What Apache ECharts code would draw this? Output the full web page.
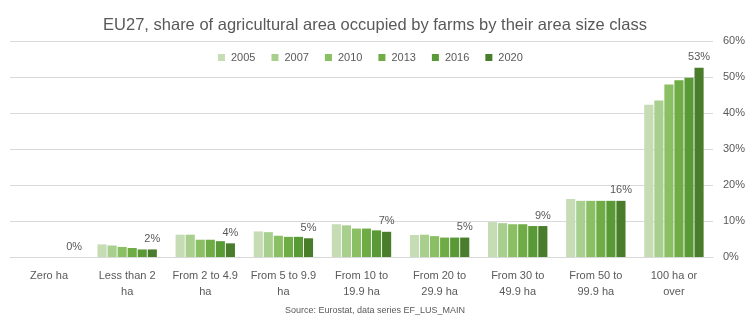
<!DOCTYPE html>
<html>
<head>
<meta charset="utf-8">
<script src="https://cdn.jsdelivr.net/npm/echarts@6/dist/echarts.min.js"></script>
<style>
  html, body { margin: 0; padding: 0; background: #fff; }
  #chart { width: 750px; height: 318px; }
</style>
</head>
<body>
<div id="chart"></div>
<script>
const categories = [
  'Zero ha', 'Less than 2\nha', 'From 2 to 4.9\nha', 'From 5 to 9.9\nha',
  'From 10 to\n19.9 ha', 'From 20 to\n29.9 ha', 'From 30 to\n49.9 ha',
  'From 50 to\n99.9 ha', '100 ha or\nover'
]
const years = ['2005', '2007', '2010', '2013', '2016', '2020']

// share of agricultural area, %
const v2005 = [0, 3.5, 6.2, 7.1, 9.1, 6.1, 9.7, 16.1, 42.3]
const v2007 = [0, 3.2, 6.2, 6.9, 8.8, 6.2, 9.4, 15.6, 43.5]
const v2010 = [0, 2.8, 4.8, 5.9, 7.9, 5.8, 9.1, 15.6, 47.9]
const v2013 = [0, 2.5, 4.8, 5.6, 7.9, 5.4, 9.1, 15.6, 49.1]
const v2016 = [0, 2.1, 4.4, 5.6, 7.4, 5.4, 8.6, 15.6, 49.8]
const v2020 = [0, 2.1, 3.8, 5.2, 7.0, 5.4, 8.6, 15.6, 52.6]

const seriesValues = [v2005, v2007, v2010, v2013, v2016, v2020]
const colors = ['#c5dcb4', '#a9cf8f', '#8bbf63', '#6fac46', '#5a9a36', '#4a7d2b']

const textColor = '#595959'
const fontFamily = 'Liberation Sans, Arial, sans-serif'

const chart = echarts.init(document.getElementById('chart'))

const series = years.map((y, i) => ({
  name: y,
  type: 'bar',
  data: seriesValues[i],
  barGap: '10%',
  barCategoryGap: '24%',
  itemStyle: { color: colors[i] },
  label: i === years.length - 1 ? {
    show: true,
    position: 'top',
    distance: 5,
    color: textColor,
    fontSize: 11,
    fontFamily: fontFamily,
    formatter: (p) => Math.round(p.value) + '%',
  } : { show: false },
}))

chart.setOption({
  animation: false,
  color: colors,
  title: {
    text: 'EU27, share of agricultural area occupied by farms by their area size class',
    left: 'center',
    top: 12,
    textStyle: { color: textColor, fontSize: 16.5, fontWeight: 'normal', fontFamily: fontFamily },
  },
  legend: {
    top: 47,
    left: 213,
    itemWidth: 7,
    itemHeight: 7,
    itemGap: 16,
    icon: 'rect',
    textStyle: { color: textColor, fontSize: 11, fontFamily: fontFamily, padding: [0, 0, 0, 1] },
    data: years,
  },
  grid: {
    left: 10,
    right: 37,
    top: 41,
    bottom: 61,
  },
  xAxis: {
    type: 'category',
    data: categories,
    axisLine: { lineStyle: { color: '#d9d9d9' } },
    axisTick: { show: false },
    axisLabel: {
      color: textColor,
      fontSize: 11,
      fontFamily: fontFamily,
      margin: 11,
      lineHeight: 16,
      interval: 0,
    },
  },
  yAxis: {
    type: 'value',
    position: 'right',
    min: 0,
    max: 60,
    interval: 10,
    axisLine: { show: false },
    axisTick: { show: false },
    splitLine: { lineStyle: { color: '#d9d9d9' } },
    axisLabel: {
      color: textColor,
      fontSize: 11,
      fontFamily: fontFamily,
      margin: 10,
      formatter: '{value}%',
    },
  },
  graphic: [{
    type: 'text',
    left: 'center',
    top: 306,
    style: {
      text: 'Source: Eurostat, data series EF_LUS_MAIN',
      fill: textColor,
      fontSize: 9,
      fontFamily: fontFamily,
    },
  }],
  series: series,
})
</script>
</body>
</html>
